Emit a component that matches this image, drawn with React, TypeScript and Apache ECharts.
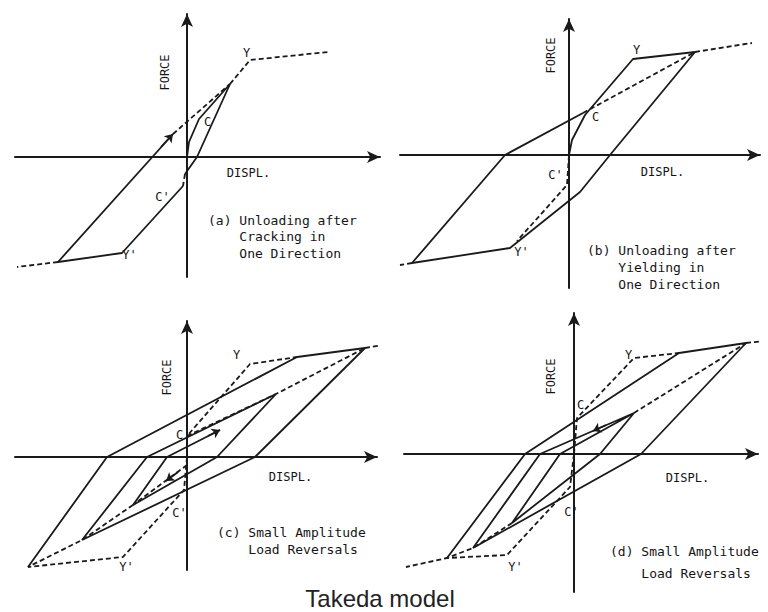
import React, { useEffect, useRef } from "react";
import * as echarts from "echarts";

type P = [number, number];

// ---------- Panel (a): Unloading after cracking in one direction ----------
const aPrimary: P[] = [[0, 0], [2, 15], [12, 38], [43, 73]];
const aPrimaryDash: P[] = [[43, 73], [63, 97], [141, 105]];
const aUnload: P[] = [[43, 73], [10, 0], [-2, -17]];
const aCrackDash: P[] = [[-2, -17], [-4, -29]];
const aNegative: P[] = [[-4, -29], [-65, -96], [-129, -105]];
const aNegDash: P[] = [[-129, -105], [-170, -110]];
const aReload: P[] = [[-129, -105], [-14, 23]];
const aReloadDash: P[] = [[-14, 23], [43, 73]];
const aArrows: P[][] = [[[-26, 10], [-14, 23]]];

// ---------- Panel (b): Unloading after yielding in one direction ----------
const bPrimary: P[] = [[0, 0], [3, 15], [16, 40], [64, 96], [126, 103]];
const bPrimaryDash: P[] = [[126, 103], [183, 112]];
const bUnload: P[] = [[126, 103], [41, 0], [11, -37], [-59, -93], [-157, -108]];
const bNegDash: P[] = [[-157, -108], [-169, -110]];
const bReload: P[] = [[-157, -108], [-64, 0], [14, 42]];
const bReloadDash: P[] = [[14, 42], [126, 103]];
const bCrackDash: P[] = [[0, 0], [-2, -30], [-52, -86]];

// ---------- Panel (c): Small amplitude load reversals ----------
const cPrimaryDash: P[] = [[0, 0], [0, 21], [63, 93], [110, 100]];
const cLoadPath: P[] = [
  [-159, -110], [-80, 0], [110, 100], [178, 109], [68, 0], [-105, -83],
  [-40, 0], [89, 63], [30, 0], [-54, -48], [-20, 0], [33, 27],
];
const cPeakDash: P[] = [[178, 109], [196, 112]];
const cNegDash: P[] = [[0, 0], [-3, -33], [-64, -100], [-159, -110]];
const cInnerDashA: P[] = [[0, 21], [89, 63], [178, 109]];
const cInnerDashB: P[] = [[-54, -48], [-105, -83], [-159, -110]];
const cInnerDashC: P[] = [[0, -8], [-54, -48]];
const cArrows: P[][] = [[[21, 21], [33, 27]], [[-9, -15], [-21, -24]]];

// ---------- Panel (d): Small amplitude load reversals ----------
const dPrimaryDash: P[] = [[0, 0], [3, 36], [60, 96], [105, 101]];
const dLoadPath: P[] = [
  [-127, -104], [-49, 0], [105, 101], [172, 111], [67, 0], [-101, -94],
  [-34, 0], [60, 41], [26, 0], [-62, -69], [-14, 0], [60, 41],
];
const dPeakDash: P[] = [[172, 111], [190, 113]];
const dNegDash: P[] = [[0, 0], [-4, -33], [-67, -101], [-127, -104], [-168, -113]];
const dInnerDashA: P[] = [[60, 41], [172, 111]];
const dInnerDashB: P[] = [[-62, -69], [-101, -94], [-127, -104]];
const dArrows: P[][] = [[[32, 29], [19, 23]]];

// ---------- Point labels ----------
type Lbl = { name: string; at: P; rotate?: number };
const aLabels: Lbl[] = [
  { name: "FORCE", at: [-22, 84], rotate: 90 }, { name: "DISPL.", at: [62, -16] },
  { name: "Y", at: [60, 104] }, { name: "C", at: [21, 35] },
  { name: "C'", at: [-24, -40] }, { name: "Y'", at: [-57, -98] },
];
const bLabels: Lbl[] = [
  { name: "FORCE", at: [-18, 99], rotate: 90 }, { name: "DISPL.", at: [94, -17] },
  { name: "Y", at: [68, 105] }, { name: "C", at: [27, 38] },
  { name: "C'", at: [-13, -20] }, { name: "Y'", at: [-47, -97] },
];
const cLabels: Lbl[] = [
  { name: "FORCE", at: [-20, 79], rotate: 90 }, { name: "DISPL.", at: [104, -20] },
  { name: "Y", at: [50, 102] }, { name: "C", at: [-7, 22] },
  { name: "C'", at: [-7, -56] }, { name: "Y'", at: [-60, -110] },
];
const dLabels: Lbl[] = [
  { name: "FORCE", at: [-23, 77], rotate: 90 }, { name: "DISPL.", at: [114, -24] },
  { name: "Y", at: [55, 99] }, { name: "C", at: [7, 49] },
  { name: "C'", at: [-2, -58] }, { name: "Y'", at: [-58, -113] },
];

const captions = [
  "(a) Unloading after\n    Cracking in\n    One Direction",
  "(b) Unloading after\n    Yielding in\n    One Direction",
  "(c) Small Amplitude\n    Load Reversals",
  "(d) Small Amplitude\n    Load Reversals",
];
const title = "Takeda model";

const INK = "#1a1a1a";
const TXT = "#151515";
const MONO = '"DejaVu Sans Mono", "Liberation Mono", monospace';

type Panel = {
  ox: number; oy: number; xMin: number; xMax: number; yMin: number; yMax: number;
  solid: P[][]; dashed: P[][]; arrows: P[][]; labels: Lbl[];
  cap: { x: number; y: number; lh: number };
};

const panels: Panel[] = [
  {
    ox: 187, oy: 157, xMin: -172, xMax: 193, yMin: -120, yMax: 143,
    solid: [aPrimary, aUnload, aNegative, aReload],
    dashed: [aPrimaryDash, aCrackDash, aNegDash, aReloadDash],
    arrows: aArrows, labels: aLabels, cap: { x: 208, y: 220, lh: 16.5 },
  },
  {
    ox: 569, oy: 155, xMin: -169, xMax: 191, yMin: -133, yMax: 136,
    solid: [bPrimary, bUnload, bReload],
    dashed: [bPrimaryDash, bNegDash, bReloadDash, bCrackDash],
    arrows: [], labels: bLabels, cap: { x: 587, y: 250, lh: 17 },
  },
  {
    ox: 187, oy: 457, xMin: -172, xMax: 190, yMin: -113, yMax: 136,
    solid: [cLoadPath],
    dashed: [cPrimaryDash, cPeakDash, cNegDash, cInnerDashA, cInnerDashB, cInnerDashC],
    arrows: cArrows, labels: cLabels, cap: { x: 217, y: 532, lh: 17 },
  },
  {
    ox: 574, oy: 454, xMin: -170, xMax: 184, yMin: -138, yMax: 141,
    solid: [dLoadPath],
    dashed: [dPrimaryDash, dPeakDash, dNegDash, dInnerDashA, dInnerDashB],
    arrows: dArrows, labels: dLabels, cap: { x: 610, y: 551, lh: 22 },
  },
];

function buildOption(): echarts.EChartsOption {
  const grid: any[] = [];
  const xAxis: any[] = [];
  const yAxis: any[] = [];
  const series: any[] = [];
  const graphic: any[] = [];
  const axisLine = {
    show: true,
    onZero: true,
    symbol: ["none", "arrow"],
    symbolSize: [9, 13],
    lineStyle: { color: INK, width: 2 },
  };
  const labelStyle = {
    show: true, position: [0, 0], align: "center", verticalAlign: "middle", formatter: "{b}",
    fontFamily: MONO, fontSize: 12, color: TXT, opacity: 1,
  };
  panels.forEach((p, i) => {
    grid.push({
      left: p.ox + p.xMin,
      top: p.oy - p.yMax,
      width: p.xMax - p.xMin,
      height: p.yMax - p.yMin,
      containLabel: false,
    });
    xAxis.push({
      type: "value", gridIndex: i, min: p.xMin, max: p.xMax,
      axisLine, axisTick: { show: false }, axisLabel: { show: false }, splitLine: { show: false },
    });
    yAxis.push({
      type: "value", gridIndex: i, min: p.yMin, max: p.yMax,
      axisLine, axisTick: { show: false }, axisLabel: { show: false }, splitLine: { show: false },
    });
    p.solid.forEach((d) =>
      series.push({
        type: "line", xAxisIndex: i, yAxisIndex: i, data: d, showSymbol: false, silent: true,
        lineStyle: { color: INK, width: 1.8, type: "solid" },
      })
    );
    p.dashed.forEach((d) =>
      series.push({
        type: "line", xAxisIndex: i, yAxisIndex: i, data: d, showSymbol: false, silent: true,
        lineStyle: { color: INK, width: 1.8, type: [5, 3] },
      })
    );
    if (p.arrows.length) {
      series.push({
        type: "lines", coordinateSystem: "cartesian2d", xAxisIndex: i, yAxisIndex: i, silent: true,
        symbol: ["none", "arrow"], symbolSize: 8,
        lineStyle: { color: INK, width: 1.8, opacity: 1, curveness: 0 },
        data: p.arrows.map((c) => ({ coords: c })),
      });
    }
    series.push({
      type: "scatter", xAxisIndex: i, yAxisIndex: i, silent: true, symbolSize: 1,
      itemStyle: { color: INK, opacity: 0 },
      data: p.labels.map((l) => ({
        name: l.name,
        value: l.at,
        label: { ...labelStyle, rotate: l.rotate || 0 },
      })),
      label: labelStyle,
    });
    graphic.push({
      type: "text", x: p.cap.x, y: p.cap.y - p.cap.lh / 2,
      style: {
        text: captions[i], fontFamily: MONO, fontSize: 13, fill: TXT,
        lineHeight: p.cap.lh, align: "left", verticalAlign: "top",
      },
    });
  });
  graphic.push({
    type: "text", x: 380, y: 598,
    style: {
      text: title, fontFamily: '"Liberation Sans", Arial, sans-serif', fontSize: 24, fill: "#222",
      align: "center", verticalAlign: "middle",
    },
  });
  return { animation: false, backgroundColor: "#ffffff", grid, xAxis, yAxis, series, graphic };
}

export default function App() {
  const ref = useRef<HTMLDivElement>(null);
  useEffect(() => {
    if (!ref.current) return;
    const chart = echarts.init(ref.current, undefined, { renderer: "svg" });
    chart.setOption(buildOption());
    return () => chart.dispose();
  }, []);
  return (
    <div
      ref={ref}
      style={{ position: "fixed", left: 0, top: 0, width: 768, height: 612, background: "#fff" }}
    />
  );
}
